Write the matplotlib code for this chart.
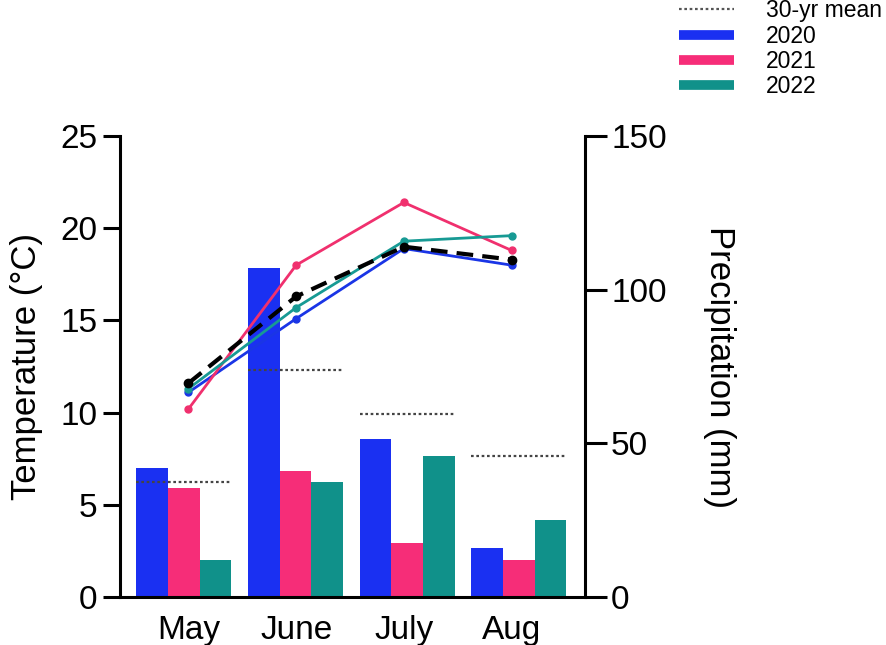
import numpy as np
import matplotlib
matplotlib.use("Agg")
import matplotlib.pyplot as plt
from matplotlib.lines import Line2D

plt.rcParams["font.family"] = ["Liberation Sans", "DejaVu Sans"]

months = ["May", "June", "July", "Aug"]
years = ["2020", "2021", "2022"]

# monthly precipitation (mm), bars
precip_2020 = [42, 107, 51.5, 16]
precip_2021 = [35.5, 41, 17.5, 12]
precip_2022 = [12, 37.5, 46, 25]
precip_mean = [37.5, 74, 59.5, 46]

# mean monthly temperature (degC), lines
temp_2020 = [11.1, 15.1, 18.9, 18.0]
temp_2021 = [10.2, 18.0, 21.4, 18.8]
temp_2022 = [11.3, 15.7, 19.3, 19.6]
temp_mean = [11.6, 16.3, 19.0, 18.3]

bar_colors = ["#1a30f2", "#f62d78", "#10918a"]
line_colors = ["#1a35e6", "#f0306e", "#179a94"]

fig = plt.figure(figsize=(8.86, 6.45), dpi=100)
rect = [0.1354, 0.0744, 0.5246, 0.7146]

# precipitation axes (drawn underneath)
axp = fig.add_axes(rect)
x = np.arange(len(months))
w = 0.284
for k, vals in enumerate([precip_2020, precip_2021, precip_2022]):
    axp.bar(x + (k - 1) * w, vals, width=w, color=bar_colors[k], zorder=2)
axp.hlines(precip_mean, x - 1.5 * w, x + 1.5 * w, colors="#444444",
           linestyles=(0, (1.2, 1.2)), lw=1.6, zorder=3)
axp.set_xlim(-0.57, 3.59)
axp.set_ylim(0, 150)
axp.set_yticks([0, 50, 100, 150])
axp.yaxis.tick_right()
axp.yaxis.set_label_position("right")
axp.set_xticks([])
for s in ["left", "top", "bottom"]:
    axp.spines[s].set_visible(False)
axp.spines["right"].set_linewidth(2.2)
axp.tick_params(axis="y", length=16, width=2.2, labelsize=24, pad=3)
axp.set_ylabel("Precipitation (mm)", fontsize=25, rotation=-90, labelpad=50)

# temperature axes (drawn on top)
axt = fig.add_axes(rect)
axt.patch.set_alpha(0)
for k, vals in enumerate([temp_2020, temp_2021, temp_2022]):
    axt.plot(x, vals, "-o", color=line_colors[k], lw=2.0, ms=5, zorder=4)
axt.plot(x, temp_mean, "--o", color="black", lw=3.0, ms=6,
         dashes=(4, 2.2), zorder=5)
axt.set_xlim(-0.636, 3.68)
axt.set_ylim(0, 25)
axt.set_yticks([0, 5, 10, 15, 20, 25])
axt.set_xticks(x)
axt.set_xticklabels(months)
for s in ["right", "top"]:
    axt.spines[s].set_visible(False)
axt.spines["left"].set_linewidth(2.2)
axt.spines["bottom"].set_linewidth(2.2)
axt.tick_params(axis="y", length=12, width=2.2, labelsize=24, pad=4)
axt.tick_params(axis="x", length=0, labelsize=24, pad=13)
axt.set_ylabel("Temperature (°C)", fontsize=25, labelpad=13)

handles = [Line2D([], [], color="#555555", lw=1.6, linestyle=(0, (1.2, 1.2)))]
handles += [Line2D([], [], color=c, lw=7, solid_capstyle="butt") for c in bar_colors]
fig.legend(handles, ["30-yr mean"] + years, loc="upper left",
           bbox_to_anchor=(0.743, 1.033), frameon=False, fontsize=16.5,
           labelspacing=0.1, handlelength=2.4, handletextpad=1.4)

fig.savefig("out.png", dpi=100)
